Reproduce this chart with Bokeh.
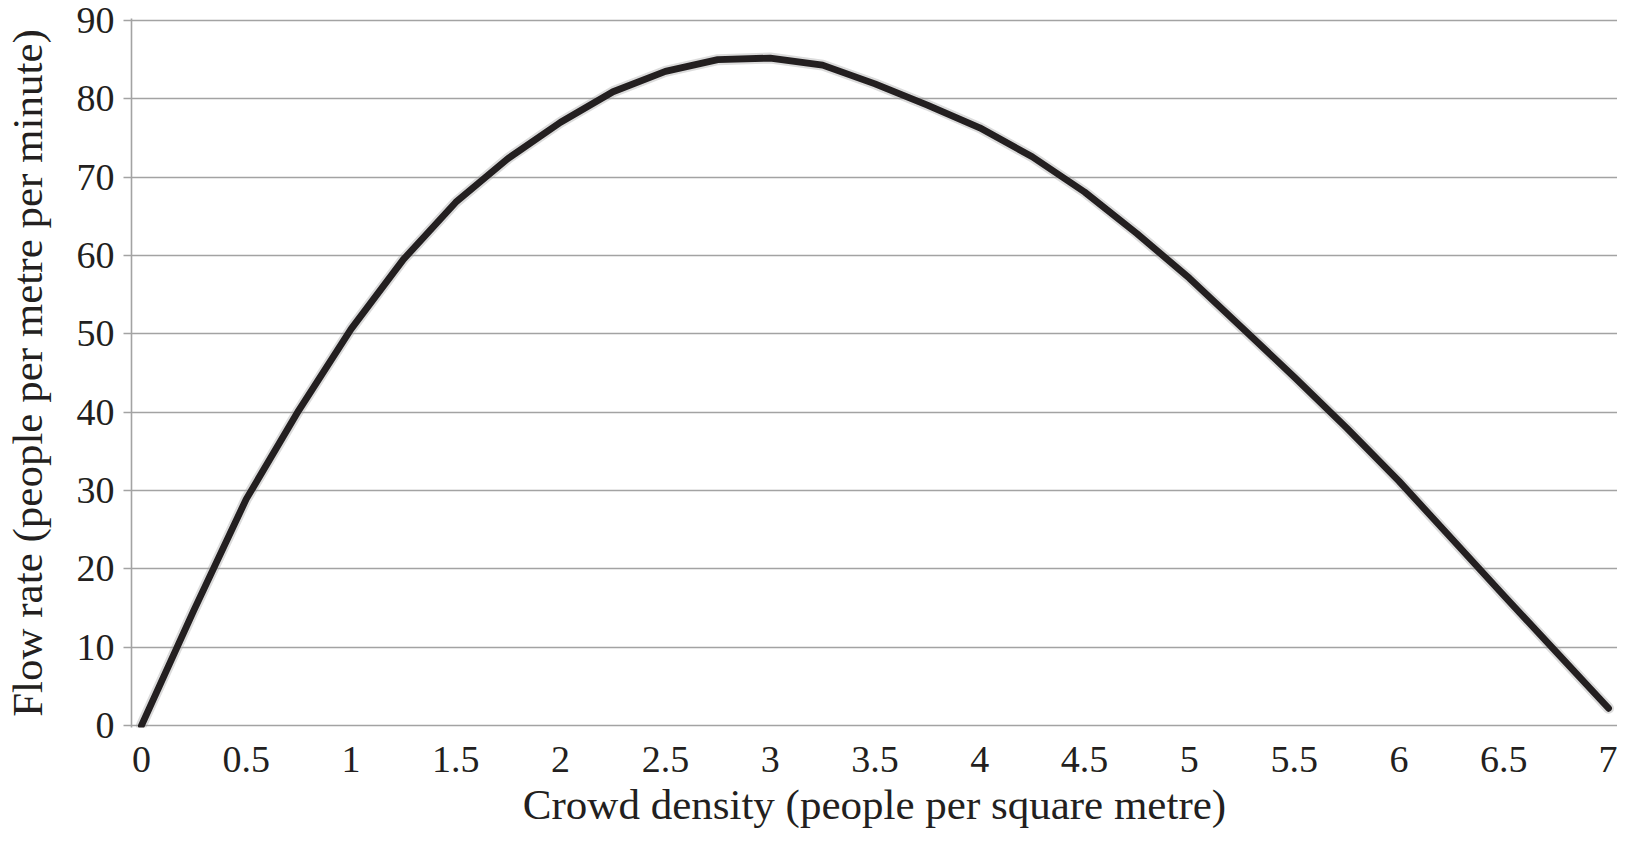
from bokeh.plotting import figure
from bokeh.models import FixedTicker, Range1d
from bokeh.embed import file_html
from bokeh.resources import INLINE

# Crowd density (people per square metre)
density = [0, 0.25, 0.5, 0.75, 1.0, 1.25, 1.5, 1.75, 2.0, 2.25, 2.5, 2.75, 3.0,
           3.25, 3.5, 3.75, 4.0, 4.25, 4.5, 4.75, 5.0, 5.25, 5.5, 5.75, 6.0,
           6.25, 6.5, 6.75, 7.0]
# Flow rate (people per metre per minute)
flow = [0.0, 14.7, 28.9, 40.2, 50.6, 59.5, 66.8, 72.4, 77.0, 80.9, 83.5, 85.0, 85.2,
        84.3, 81.9, 79.2, 76.3, 72.6, 68.1, 62.8, 57.1, 50.8, 44.5, 38.0, 31.2,
        23.9, 16.6, 9.4, 2.2]

x_ticks = [0, 0.5, 1, 1.5, 2, 2.5, 3, 3.5, 4, 4.5, 5, 5.5, 6, 6.5, 7]
x_tick_labels = ["0", "0.5", "1", "1.5", "2", "2.5", "3", "3.5", "4", "4.5",
                 "5", "5.5", "6", "6.5", "7"]
y_ticks = [0, 10, 20, 30, 40, 50, 60, 70, 80, 90]

x_title = "Crowd density (people per square metre)"
y_title = "Flow rate (people per metre per minute)"

FONT = "Liberation Serif"
TEXT = "#231f20"
GRID = "#a3a3a3"

p = figure(width=1617, height=830, output_backend="svg", toolbar_location=None,
           x_range=Range1d(-0.0474, 7.0427), y_range=Range1d(-0.25, 90.25),
           min_border_left=121, min_border_right=0, min_border_top=18,
           min_border_bottom=100)
p.outline_line_color = None
p.background_fill_color = "white"
p.border_fill_color = "white"

p.xgrid.visible = False
p.ygrid.ticker = FixedTicker(ticks=y_ticks)
p.ygrid.grid_line_color = GRID
p.ygrid.grid_line_width = 1.6

# x axis
p.xaxis.ticker = FixedTicker(ticks=x_ticks)
p.xaxis.major_label_overrides = {t: s for t, s in zip(x_ticks, x_tick_labels)}
p.xaxis.axis_line_color = None
p.xaxis.major_tick_line_color = None
p.xaxis.minor_tick_line_color = None
p.xaxis.major_label_standoff = 13
p.xaxis.axis_label = x_title
p.xaxis.axis_label_standoff = 6

# y axis
p.yaxis.ticker = FixedTicker(ticks=y_ticks)
p.yaxis.axis_line_color = GRID
p.yaxis.axis_line_width = 1.6
p.yaxis.major_tick_line_color = GRID
p.yaxis.major_tick_line_width = 1.6
p.yaxis.major_tick_out = 8
p.yaxis.major_tick_in = 0
p.yaxis.minor_tick_line_color = None
p.yaxis.major_label_standoff = 9
p.yaxis.axis_label = y_title
p.yaxis.axis_label_standoff = 23

for ax in (p.xaxis[0], p.yaxis[0]):
    ax.major_label_text_font = FONT
    ax.major_label_text_font_size = "38px"
    ax.major_label_text_color = TEXT
    ax.axis_label_text_font = FONT
    ax.axis_label_text_font_size = "43px"
    ax.axis_label_text_font_style = "normal"
    ax.axis_label_text_color = TEXT

# soft shadow under the curve
p.line(density, flow, line_color="#9a9a9a", line_width=11, line_alpha=0.35,
       line_join="round", line_cap="round")
p.line(density, flow, line_color="#231f20", line_width=6.8,
       line_join="round", line_cap="round")

open("out.html", "w").write(file_html(p, INLINE))
